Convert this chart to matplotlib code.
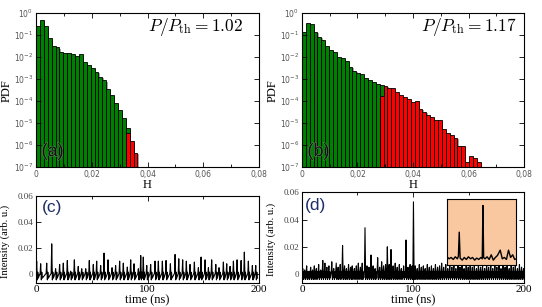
import numpy as np
import matplotlib
matplotlib.use('Agg')
import matplotlib.pyplot as plt
import matplotlib.ticker as mticker
import matplotlib.patheffects as pe

plt.rcParams['mathtext.fontset'] = 'cm'

# ---- histogram data (log10 of PDF per bin, bin width in H) ----
bin_w = 0.0014
# panel (a) P/Pth = 1.02
log_green_a = [-0.60, -0.32, -0.58, -1.14, -1.49, -1.55, -1.77, -1.82, -1.82, -1.85,
               -1.94, -1.87, -2.24, -2.35, -2.47, -2.68, -2.88, -3.06, -3.45, -3.71,
               -4.09, -4.39, -4.77, -5.23]
log_red_a = [-5.45, -5.83, -6.34]
red_start_a = 23
# panel (b) P/Pth = 1.17
log_green_b = [-0.87, -0.42, -0.50, -0.83, -1.08, -1.23, -1.50, -1.65, -1.77, -1.98,
               -2.04, -2.18, -2.43, -2.63, -2.70, -2.78, -2.95, -3.05, -3.12, -3.20,
               -3.25]
log_red_b = [-3.78, -3.30, -3.42, -3.42, -3.60, -3.74, -3.83, -3.92, -4.04, -4.01,
             -4.36, -4.48, -4.63, -4.73, -4.88, -4.88, -5.26, -5.44, -5.56, -5.66,
             -6.04, -6.04, -6.76, -6.50, -6.61, -6.76]
red_start_b = 20

# ---- time traces: pulse times (ns) and peak intensities ----
c_times = [0.6, 4.2, 9.6, 14.1, 17.6, 21.2, 24.5, 28.1, 31.1, 34.4, 37.9, 41.0, 44.6,
           47.8, 51.4, 54.4, 58.0, 61.0, 64.6, 68.2, 71.4, 75.0, 78.3, 81.9, 84.9,
           87.9, 91.8, 93.9, 96.2, 99.3, 102.8, 106.7, 109.7, 113.3, 116.6, 120.5,
           124.7, 128.0, 131.5, 134.8, 138.1, 142.0, 145.6, 148.0, 151.6, 154.6,
           157.5, 161.2, 164.1, 168.0, 171.0, 174.0, 177.0, 180.3, 183.9, 186.8,
           190.4, 194.0, 197.0]
c_peaks = [0.0101, 0.0081, 0.0086, 0.0233, 0.0043, 0.0076, 0.0086, 0.0106, 0.0025,
           0.0111, 0.0061, 0.0043, 0.0043, 0.0106, 0.0076, 0.0101, 0.0068, 0.0162,
           0.0111, 0.0051, 0.0068, 0.0101, 0.0086, 0.0056, 0.0111, 0.0081, 0.0043,
           0.0144, 0.0132, 0.0068, 0.0076, 0.0101, 0.0101, 0.0101, 0.0106, 0.0081,
           0.0152, 0.0119, 0.0111, 0.0101, 0.0076, 0.0094, 0.0051, 0.0132, 0.0111,
           0.0051, 0.0111, 0.0076, 0.0051, 0.0094, 0.0081, 0.0061, 0.0101, 0.0111,
           0.0106, 0.0170, 0.0101, 0.0068, 0.0068]

d_times = [0.8, 2.5, 4.3, 6.0, 7.9, 9.6, 11.2, 13.0, 15.1, 17.0, 18.8, 20.7, 22.5,
           24.3, 26.9, 28.7, 30.9, 32.6, 34.5, 36.6, 38.4, 40.1, 42.0, 43.8, 45.3,
           47.2, 49.0, 50.8, 52.7, 54.3, 56.8, 58.6, 60.4, 62.2, 64.1, 65.9, 68.2,
           70.0, 71.8, 73.5, 75.3, 76.9, 78.6, 80.2, 82.1, 84.0, 85.8, 87.7, 89.5,
           91.6, 93.7, 95.5, 97.4, 99.2, 100.4, 102.0, 103.8, 105.7, 107.5, 109.3,
           111.0, 112.9, 114.7, 116.6, 118.4, 120.2, 122.1, 123.9, 125.8, 127.6,
           129.5, 131.3, 133.1, 135.0, 136.8, 138.6, 140.5, 142.3, 144.2, 146.0,
           147.9, 149.7, 151.5, 153.4, 155.2, 157.1, 158.9, 160.8, 162.6, 164.5,
           166.3, 168.1, 170.0, 171.8, 173.7, 175.5, 177.4, 179.2, 181.0, 182.9,
           184.7, 186.6, 188.4, 190.3, 192.1, 194.0, 195.8, 197.7, 199.5]
d_peaks = [0.004, 0.003, 0.006, 0.002, 0.005, 0.003, 0.006, 0.004, 0.007, 0.003,
           0.010, 0.008, 0.005, 0.006, 0.009, 0.004, 0.008, 0.005, 0.007, 0.021,
           0.006, 0.004, 0.007, 0.005, 0.006, 0.004, 0.006, 0.008, 0.005, 0.008,
           0.034, 0.006, 0.005, 0.014, 0.006, 0.004, 0.012, 0.005, 0.009, 0.006,
           0.007, 0.020, 0.007, 0.018, 0.006, 0.008, 0.005, 0.007, 0.004, 0.006,
           0.025, 0.005, 0.007, 0.006, 0.053, 0.006, 0.004, 0.007, 0.005, 0.006,
           0.004, 0.007, 0.005, 0.006, 0.004, 0.007, 0.005, 0.006, 0.008, 0.005,
           0.007, 0.004, 0.006, 0.005, 0.007, 0.004, 0.006, 0.005, 0.007, 0.004,
           0.006, 0.005, 0.007, 0.005, 0.006, 0.004, 0.007, 0.005, 0.006, 0.004,
           0.007, 0.005, 0.006, 0.004, 0.007, 0.005, 0.006, 0.004, 0.007, 0.005,
           0.006, 0.004, 0.007, 0.005, 0.006, 0.004, 0.007, 0.005, 0.004]

# zoomed inset of (d), normalised units
inset_t = [0, 0.03, 0.06, 0.09, 0.12, 0.15, 0.165, 0.177, 0.19, 0.22, 0.25, 0.28,
           0.31, 0.34, 0.37, 0.40, 0.43, 0.46, 0.49, 0.51, 0.52, 0.53, 0.55, 0.58,
           0.61, 0.64, 0.67, 0.70, 0.73, 0.77, 0.80, 0.83, 0.86, 0.89, 0.92, 0.95,
           0.98, 1.0]
inset_v = [0.13, 0.10, 0.12, 0.09, 0.13, 0.10, 0.14, 0.50, 0.11, 0.08, 0.12, 0.09,
           0.13, 0.10, 0.12, 0.08, 0.11, 0.09, 0.12, 0.10, 0.90, 0.12, 0.10, 0.13,
           0.09, 0.16, 0.08, 0.12, 0.15, 0.23, 0.10, 0.12, 0.09, 0.23, 0.12, 0.16,
           0.09, 0.10]

# relaxation shape after each pulse: (time offset, fraction of dip)
relax_dt = [0.6, 1.0, 1.4]
relax_frac = [1.0, -0.4, 0.7]

serif = 'Liberation Serif'
sans = 'Liberation Sans'


def pulse_trace(times, peaks, base, dip):
    t, v = [], []
    for ti, pi in zip(times, peaks):
        t += [ti - 0.5, ti]
        v += [base, pi]
        for dt, fr in zip(relax_dt, relax_frac):
            t.append(ti + dt)
            v.append(dip * fr)
    return t, v


def style_axes(ax):
    ax.tick_params(which='both', direction='in', top=True, right=True, width=0.6)
    ax.tick_params(which='major', length=3.5)
    ax.tick_params(which='minor', length=2)
    for s in ax.spines.values():
        s.set_linewidth(0.8)


fig = plt.figure(figsize=(5.42, 3.07), dpi=100)

hist_pos = [[0.0664, 0.456, 0.4116, 0.5007], [0.557, 0.456, 0.410, 0.5007]]
panels = [(log_green_a, log_red_a, red_start_a, '1.02', '(a)', 0.93),
          (log_green_b, log_red_b, red_start_b, '1.17', '(b)', 0.965)]
shadow = [pe.SimplePatchShadow(offset=(0.9, -0.9), shadow_rgbFace='#999999', alpha=0.9),
          pe.Normal()]
for pos, (lg, lr, rs, ratio, tag, tx) in zip(hist_pos, panels):
    ax = fig.add_axes(pos)
    xg = np.arange(len(lg)) * bin_w
    xr = (rs + np.arange(len(lr))) * bin_w
    ax.bar(xg, 10.0 ** np.array(lg), width=bin_w, align='edge', color='#008000',
           edgecolor='black', linewidth=0.6, path_effects=shadow)
    ax.bar(xr, 10.0 ** np.array(lr), width=bin_w, align='edge', color='#ff0000',
           edgecolor='black', linewidth=0.6, path_effects=shadow)
    ax.set_yscale('log')
    ax.set_ylim(1e-7, 1)
    ax.set_xlim(0, 0.08)
    ax.yaxis.set_major_locator(mticker.LogLocator(base=10, numticks=10))
    ax.yaxis.set_minor_locator(mticker.NullLocator())
    ax.xaxis.set_major_locator(mticker.MultipleLocator(0.02))
    ax.xaxis.set_minor_locator(mticker.MultipleLocator(0.01))
    ax.xaxis.set_major_formatter(mticker.FuncFormatter(
        lambda v, p: '0' if abs(v) < 1e-9 else f'{v:.2f}'.replace('.', ',')))
    style_axes(ax)
    ax.tick_params(labelsize=5.5, labelcolor='#555555', pad=2)
    ax.set_ylabel('PDF', family=serif, fontsize=9, labelpad=1)
    ax.set_xlabel('H', family=serif, fontsize=9, labelpad=0)
    ax.text(tx, 0.91, r'$P/P_{\rm th} = ' + ratio + '$', transform=ax.transAxes,
            ha='right', va='center', fontsize=12.5)
    ax.text(0.025, 0.1, tag, transform=ax.transAxes, ha='left', va='center',
            fontsize=13, family=sans, color='#111111', zorder=10,
            path_effects=[pe.withStroke(linewidth=0.8, foreground='#5a8f5a')])

ts_pos = [[0.0664, 0.0772, 0.4116, 0.2853], [0.557, 0.0772, 0.410, 0.2964]]
traces = [(c_times, c_peaks, 0.0008, -0.0042, '(c)', 0.025),
          (d_times, d_peaks, 0.0015, -0.0040, '(d)', 0.012)]
for k, (pos, (tt, pp, base, dip, tag, tx)) in enumerate(zip(ts_pos, traces)):
    ax = fig.add_axes(pos)
    t, v = pulse_trace(tt, pp, base, dip)
    ax.plot(t, v, color='black', lw=0.8)
    ax.set_xlim(0, 200)
    ax.set_ylim(-0.0068, 0.06)
    ax.xaxis.set_major_locator(mticker.MultipleLocator(100))
    ax.xaxis.set_minor_locator(mticker.MultipleLocator(50))
    ax.yaxis.set_major_locator(mticker.MultipleLocator(0.02))
    ax.yaxis.set_major_formatter(mticker.FuncFormatter(
        lambda v, p: '0' if abs(v) < 1e-9 else f'{v:.2f}'))
    style_axes(ax)
    ax.tick_params(axis='x', labelsize=8, pad=1.5)
    ax.tick_params(axis='y', labelsize=6.5, labelcolor='#444444', pad=2)
    for lab in ax.get_xticklabels() + ax.get_yticklabels():
        lab.set_family(serif)
    ax.set_xlabel('time (ns)', family=serif, fontsize=9, labelpad=0)
    ax.set_ylabel('Intensity (arb. u.)', family=serif, fontsize=7.6)
    ax.yaxis.set_label_coords(-0.118, 0.48)
    ax.text(tx, 0.86, tag, transform=ax.transAxes, ha='left', va='center',
            fontsize=12.5, family=sans, color='#1c2f66')
    if k == 1:
        ins = ax.inset_axes([130.6, 0.0063, 62.2, 0.0489], transform=ax.transData)
        ins.set_facecolor('#f9c8a0')
        ins.plot(inset_t, inset_v, color='black', lw=1.0)
        ins.set_xlim(0, 1)
        ins.set_ylim(0, 1)
        ins.set_xticks([])
        ins.set_yticks([])
        for s in ins.spines.values():
            s.set_linewidth(0.8)

fig.savefig('out.png', dpi=100)
